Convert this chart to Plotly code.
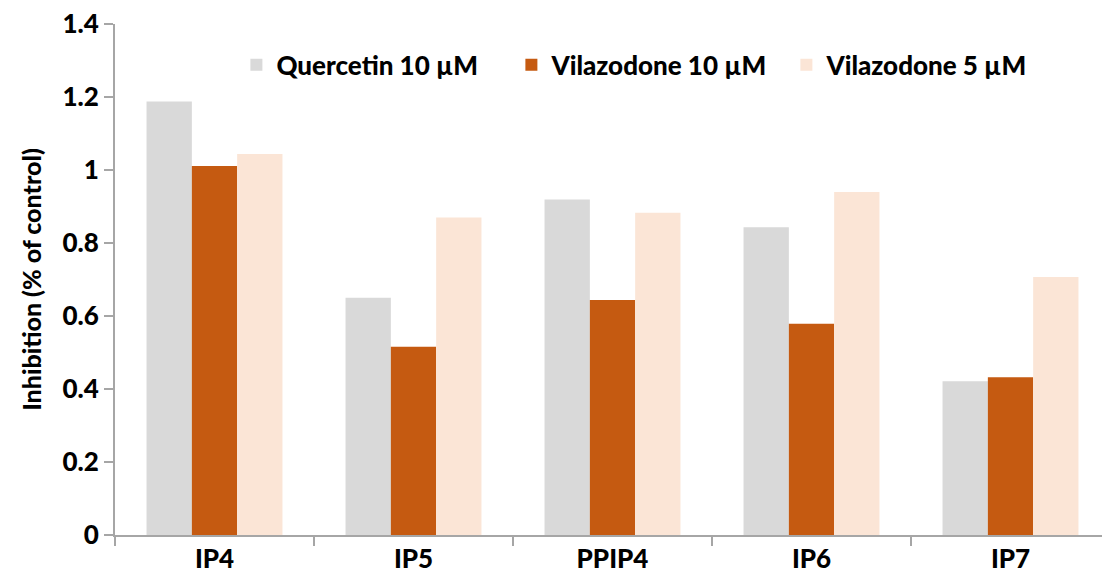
import plotly.graph_objects as go

categories = ["IP4", "IP5", "PPIP4", "IP6", "IP7"]
quercetin_10 = [1.188, 0.650, 0.919, 0.843, 0.421]
vilazodone_10 = [1.011, 0.516, 0.644, 0.579, 0.432]
vilazodone_5 = [1.044, 0.870, 0.883, 0.940, 0.707]
series_names = ["Quercetin 10 µM", "Vilazodone 10 µM", "Vilazodone 5 µM"]
series_colors = ["#D9D9D9", "#C55A11", "#FBE5D6"]
y_ticks = [0, 0.2, 0.4, 0.6, 0.8, 1, 1.2, 1.4]
y_tick_labels = ["0", "0.2", "0.4", "0.6", "0.8", "1", "1.2", "1.4"]

FONT = "Lato"
W = 900
fig = go.Figure()
for name, vals, col in zip(series_names, [quercetin_10, vilazodone_10, vilazodone_5], series_colors):
    fig.add_trace(go.Bar(x=categories, y=vals, name=name, marker=dict(color=col, line=dict(width=0))))

axis_col = "#A6A6A6"
fig.update_layout(
    width=1110, height=588,
    margin=dict(l=107, r=8, t=16, b=61, autoexpand=False),
    paper_bgcolor="white", plot_bgcolor="white",
    barmode="group", bargap=0.317, bargroupgap=0,
    font=dict(family=FONT, size=26, color="black", weight=W),
    legend=dict(orientation="h", x=0.122, y=0.92, xanchor="left", yanchor="middle",
                font=dict(family=FONT, size=26, color="black", weight=W),
                entrywidth=230, entrywidthmode="pixels", bgcolor="rgba(0,0,0,0)"),
    xaxis=dict(type="category", showline=True, linecolor=axis_col, linewidth=2,
               ticks="outside", tickson="boundaries", ticklen=9, tickcolor=axis_col, tickwidth=2,
               showgrid=False, automargin=False, tickfont=dict(family=FONT, size=26, weight=W)),
    yaxis=dict(range=[0, 1.4], tickvals=y_ticks, ticktext=y_tick_labels,
               showline=True, linecolor=axis_col, linewidth=2,
               ticks="outside", ticklen=9, tickcolor=axis_col, tickwidth=2,
               showgrid=False, zeroline=False, ticklabeloverflow="allow", automargin=False,
               tickfont=dict(family=FONT, size=26, weight=W),
               title=dict(text="Inhibition (% of control)", standoff=14,
                          font=dict(family=FONT, size=25, weight=W))),
)
fig.write_html("out.html")
